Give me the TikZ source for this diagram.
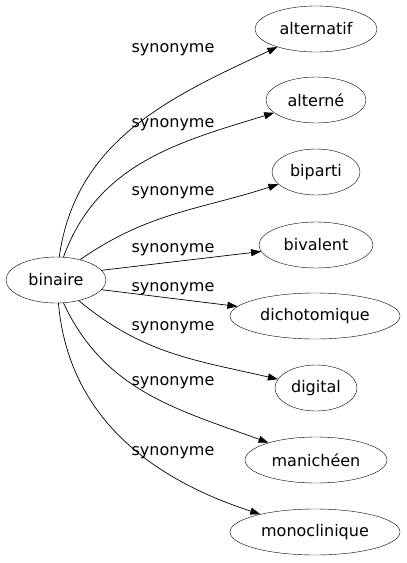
\documentclass[tikz,border=0pt]{standalone}
\usepackage{fontspec}
\setmainfont{DejaVu Sans}
\usetikzlibrary{shapes.geometric,arrows.meta}
\begin{document}
\begin{tikzpicture}[x=1pt,y=-1pt,
  word/.style={draw,ellipse,inner sep=0pt,minimum height=46pt,font=\fontsize{16}{18}\selectfont},
  lab/.style={inner sep=0pt,font=\fontsize{16}{18}\selectfont},
  syn/.style={-{Triangle[length=10pt,width=7pt]},line width=0.7pt}]
\useasboundingbox (0,0) rectangle (407,563);
\node[word,minimum width=100pt] (b) at (56,280) {binaire};
\node[word,minimum width=122pt] (t1) at (316,29) {alternatif};
\node[word,minimum width=100pt] (t2) at (316,100) {alterné};
\node[word,minimum width=88pt] (t3) at (316,172) {biparti};
\node[word,minimum width=114pt] (t4) at (316,245) {bivalent};
\node[word,minimum width=170pt] (t5) at (315,316) {dichotomique};
\node[word,minimum width=82pt] (t6) at (316,388) {digital};
\node[word,minimum width=142pt] (t7) at (316,460) {manichéen};
\node[word,minimum width=170pt] (t8) at (315,532) {monoclinique};
\node[lab] (l1) at (173,50) {synonyme};
\node[lab] (l2) at (173,125) {synonyme};
\node[lab] (l3) at (173,193) {synonyme};
\node[lab] (l4) at (173,250) {synonyme};
\node[lab] (l5) at (173,289) {synonyme};
\node[lab] (l6) at (173,328) {synonyme};
\node[lab] (l7) at (173,383) {synonyme};
\node[lab] (l8) at (173,453) {synonyme};
\draw[syn] (b.82) to[out=82,in=205] (t1);
\draw[syn] (b.72) to[out=70,in=197] (t2);
\draw[syn] (b.40) to[out=35,in=198] (t3);
\draw[syn] (b.12) -- (t4);
\draw[syn] (b.-12) -- (t5);
\draw[syn] (b.-42) to[out=-40,in=167] (t6);
\draw[syn] (b.-72) to[out=-65,in=160] (t7);
\draw[syn] (b.-84) to[out=-85,in=162] (t8);
\end{tikzpicture}
\end{document}
